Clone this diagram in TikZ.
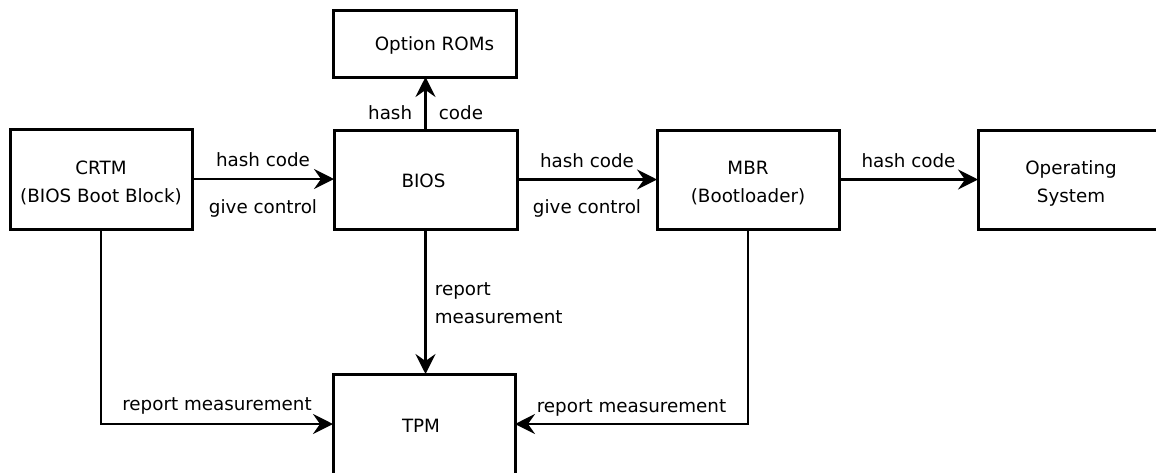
\documentclass[tikz,border=0pt]{standalone}
\usepackage{fontspec}
\setmainfont{DejaVu Sans}
\usetikzlibrary{arrows.meta,calc}

\begin{document}
\begin{tikzpicture}[x=1pt, y=-1pt,
  every node/.style={font=\fontsize{18.3pt}{28pt}\selectfont},
  stage/.style={draw, line width=3pt, rectangle, inner sep=0pt, outer sep=0pt},
  caption/.style={label={[inner sep=0pt, align=center, yshift=-3.5pt]center:#1}},
  flow/.style={line width=2.8pt, -{Stealth[length=20pt, width=20pt, inset=7pt]}},
  lbl/.style={inner sep=0pt}
]
\useasboundingbox (0,0) rectangle (1156,472);
\clip (0,0) rectangle (1156,472);

% boot chain stages
\node[stage, minimum width=182pt, minimum height=100pt,
      caption={CRTM\\(BIOS Boot Block)}] (crtm) at (101,179) {};
\node[stage, minimum width=183pt, minimum height=99pt,
      label={[inner sep=0pt, xshift=-2pt, yshift=-1pt]center:BIOS}] (bios) at (425.5,179.5) {};
\node[stage, minimum width=183pt, minimum height=67pt,
      label={[inner sep=0pt, xshift=10pt, yshift=-1.5pt]center:Option ROMs}] (roms) at (424.5,43.5) {};
\node[stage, minimum width=182pt, minimum height=99pt,
      caption={MBR\\(Bootloader)}] (mbr) at (748,179.5) {};
\node[stage, minimum width=186pt, minimum height=99pt,
      caption={Operating\\System}] (os) at (1071,179.5) {};
\node[stage, minimum width=182pt, minimum height=100pt,
      label={[inner sep=0pt, xshift=-3pt, yshift=-2pt]center:TPM}] (tpm) at (424,424) {};

% measured hand-over of control
\draw[flow] (crtm.east) -- (crtm.east -| bios.west)
  node[lbl, midway, yshift=19pt] {hash code}
  node[lbl, midway, yshift=-29pt] {give control};
\draw[flow] (bios.east) -- (mbr.west)
  node[lbl, midway, yshift=19pt] {hash code}
  node[lbl, midway, yshift=-29pt] {give control};
\draw[flow] (mbr.east) -- (os.west)
  node[lbl, midway, yshift=19pt] {hash code};
\draw[flow] (bios.north) -- (bios.north |- roms.south)
  node[lbl, pos=0.32, left=12pt] {hash}
  node[lbl, pos=0.32, right=12pt] {code};

% measurements reported to the TPM
\draw[flow] (bios.south) -- (bios.south |- tpm.north)
  node[lbl, midway, right=8pt, yshift=-2pt, align=left] {report\\measurement};
\coordinate (crtmturn) at (crtm.south |- tpm.west);
\coordinate (mbrturn) at (mbr.south |- tpm.east);
\draw[flow] (crtm.south) -- (crtmturn) -- (tpm.west)
  node[lbl, midway, yshift=18pt] {report measurement};
\draw[flow] (mbr.south) -- (mbrturn) -- (tpm.east)
  node[lbl, midway, yshift=16pt] {report measurement};
\end{tikzpicture}
\end{document}
